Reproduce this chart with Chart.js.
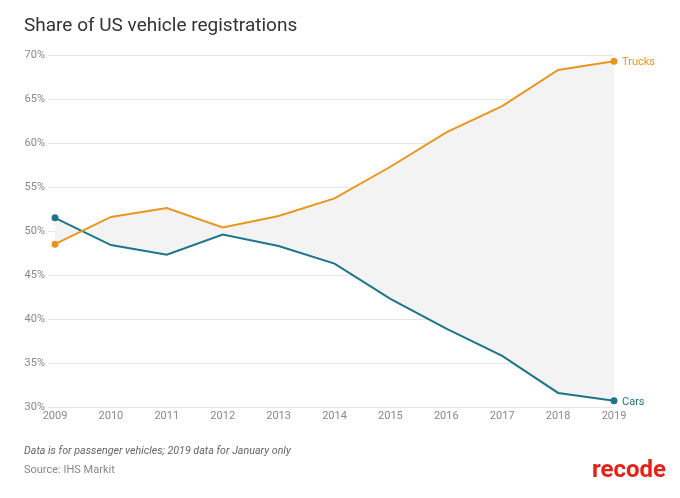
<!DOCTYPE html>
<html>
<head>
<meta charset="utf-8">
<script src="https://cdn.jsdelivr.net/npm/chart.js@4"></script>
<style>
  body { margin: 0; background: #fff; }
  #wrap { width: 680px; height: 498px; }
</style>
</head>
<body>
<div id="wrap"><canvas id="myChart" width="680" height="498"></canvas></div>
<script>
'use strict'

let years = ['2009', '2010', '2011', '2012', '2013', '2014', '2015', '2016', '2017', '2018', '2019']
let trucks = [48.5, 51.6, 52.6, 50.4, 51.7, 53.7, 57.3, 61.2, 64.2, 68.3, 69.3]
let cars = [51.5, 48.4, 47.3, 49.6, 48.3, 46.3, 42.3, 38.9, 35.8, 31.6, 30.7]
let seriesNames = ['Trucks', 'Cars']
let yTicks = [30, 35, 40, 45, 50, 55, 60, 65, 70]

let orange = '#e8961f'
let teal = '#1d7589'
let endPoints = years.map(function (y, i) { return (i === 0 || i === years.length - 1) ? 3.5 : 0 })

// title, footnotes, logo and end labels
let decorations = {
  id: 'decorations',
  afterDraw: function (chart) {
    let ctx = chart.ctx
    ctx.save()
    ctx.textBaseline = 'middle'
    ctx.textAlign = 'left'
    ctx.fillStyle = '#333'
    ctx.font = '19px Roboto'
    ctx.fillText('Share of US vehicle registrations', 24, 26)

    ctx.fillStyle = '#666'
    ctx.font = 'italic 10.7px Roboto'
    ctx.fillText('Data is for passenger vehicles; 2019 data for January only', 24, 451)
    ctx.fillStyle = '#888'
    ctx.font = '11px Roboto'
    ctx.fillText('Source: IHS Markit', 24, 470)

    ctx.fillStyle = '#e2231a'
    ctx.font = 'bold 24px "Liberation Sans Narrow", "Roboto"'
    ctx.fillText('recode', 592, 471)

    let x = chart.scales.x
    let y = chart.scales.y
    let last = years.length - 1
    ctx.font = '11px Roboto'
    ctx.fillStyle = orange
    ctx.fillText(seriesNames[0], x.getPixelForValue(last) + 8, y.getPixelForValue(trucks[last]) + 1)
    ctx.fillStyle = teal
    ctx.fillText(seriesNames[1], x.getPixelForValue(last) + 8, y.getPixelForValue(cars[last]) + 1)
    ctx.restore()
  }
}

let ctx = document.getElementById('myChart').getContext('2d')
let myChart = new Chart(ctx, {
  type: 'line',
  data: {
    labels: years,
    datasets: [{
      label: seriesNames[0],
      data: trucks,
      borderColor: orange,
      backgroundColor: orange,
      borderWidth: 2,
      pointRadius: endPoints,
      pointBackgroundColor: orange,
      pointBorderWidth: 0,
      fill: { target: '+1', above: '#f3f3f3', below: '#f3f3f3' },
      tension: 0
    }, {
      label: seriesNames[1],
      data: cars,
      borderColor: teal,
      backgroundColor: teal,
      borderWidth: 2,
      pointRadius: endPoints,
      pointBackgroundColor: teal,
      pointBorderWidth: 0,
      fill: false,
      tension: 0
    }]
  },
  options: {
    responsive: false,
    animation: false,
    layout: { padding: { top: 55, left: 0, right: 66, bottom: 71 } },
    plugins: {
      legend: { display: false },
      tooltip: { enabled: false },
      filler: { drawTime: 'beforeDatasetsDraw' }
    },
    scales: {
      x: {
        offset: false,
        grid: { display: false, drawTicks: false },
        border: { display: false },
        ticks: { color: '#888', font: { family: 'Roboto', size: 11 }, padding: 3, maxRotation: 0 },
        afterFit: function (scale) { scale.height = 20 }
      },
      y: {
        min: 30,
        max: 70,
        afterBuildTicks: function (scale) { scale.ticks = yTicks.map(function (v) { return { value: v } }) },
        grid: { color: '#e6e6e6', tickLength: 7, tickColor: '#e6e6e6' },
        border: { display: false },
        ticks: {
          color: '#888',
          font: { family: 'Roboto', size: 11 },
          padding: 3,
          callback: function (v) { return v + '%' }
        },
        afterFit: function (scale) { scale.width = 55 }
      }
    }
  },
  plugins: [decorations]
})
</script>
</body>
</html>
